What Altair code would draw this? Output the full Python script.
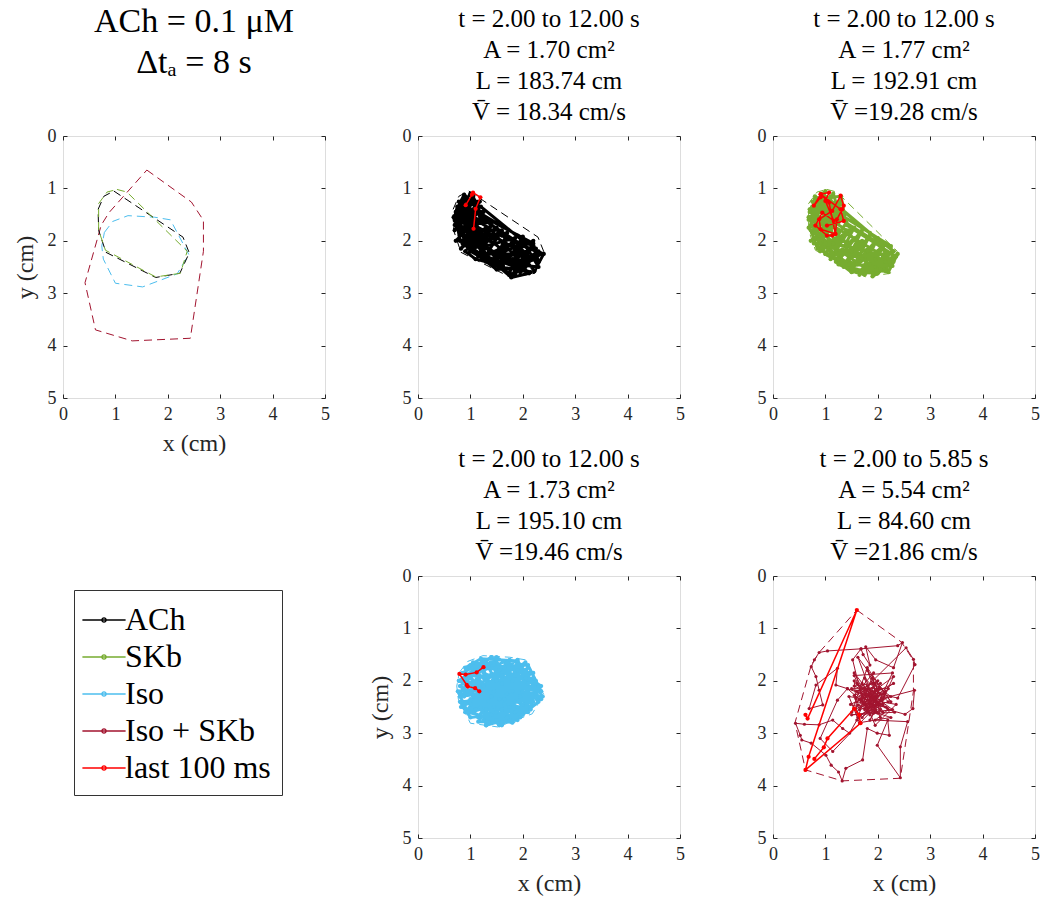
import altair as alt
import pandas as pd

FONT = "Liberation Serif"
CONDS = ["ACh", "SKb", "Iso", "Iso + SKb", "last 100 ms"]
COLORS = ["#000000", "#77ac30", "#4dbeee", "#a2142f", "#ff0000"]
TICKS = [0, 1, 2, 3, 4, 5]

# ---------------- convex hulls (cm) ----------------
hull_ach_x = [0.97, 2.29, 2.41, 2.23, 1.77, 0.82, 0.68, 0.67, 0.78, 0.97]
hull_ach_y = [1.05, 1.93, 2.23, 2.62, 2.70, 2.22, 1.80, 1.40, 1.15, 1.05]
hull_skb_x = [1.03, 1.22, 2.37, 2.24, 1.77, 0.81, 0.68, 0.68, 0.84, 1.03]
hull_skb_y = [1.02, 1.07, 2.20, 2.62, 2.69, 2.18, 1.80, 1.29, 1.07, 1.02]
hull_iso_x = [0.79, 0.95, 1.24, 1.75, 2.05, 2.40, 2.18, 1.52, 1.00, 0.77, 0.74, 0.79]
hull_iso_y = [1.84, 1.63, 1.52, 1.55, 1.60, 2.26, 2.63, 2.88, 2.81, 2.35, 2.10, 1.84]
hull_isk_x = [1.60, 2.45, 2.68, 2.68, 2.43, 1.32, 0.62, 0.42, 0.73, 0.88, 1.60]
hull_isk_y = [0.65, 1.26, 1.61, 2.20, 3.86, 3.91, 3.70, 2.80, 1.70, 1.46, 0.65]

# ---------------- trajectories (cm) ----------------
ach_x = [0.95, 0.72, 0.88, 1.02, 0.70, 0.85, 1.18, 0.80, 1.10, 0.75, 1.25, 0.90, 1.05, 0.68, 1.00,
         1.20, 0.82, 1.30, 0.95, 1.15, 1.40, 1.00, 1.60, 1.25, 1.50, 1.10, 1.70, 1.45, 1.85, 1.30,
         1.65, 1.55, 2.00, 1.75, 1.90, 1.35, 1.80, 2.10, 1.60, 2.20, 1.95, 2.30, 2.05, 2.22, 2.40,
         2.15, 1.85, 2.00, 1.70, 2.25, 1.95, 2.12, 1.78, 1.55, 1.70, 1.40, 1.20, 1.50, 1.05, 1.35,
         0.85, 1.15, 0.75, 1.08, 0.92, 0.70, 1.12, 0.80, 1.00, 0.95, 1.25, 1.45, 1.65, 1.90, 2.08,
         1.80, 1.55, 1.30, 1.10, 0.90, 1.20, 0.88, 1.05, 0.78, 0.92, 0.72, 1.10, 0.95, 1.30, 1.05,
         0.82, 1.00,
         0.72, 2.30, 2.20, 0.80, 0.90, 1.60, 2.35, 1.90, 0.75, 0.80, 1.60, 2.15, 1.30, 0.95, 1.20,
         2.00, 2.30, 1.45, 0.85, 1.05, 1.25, 2.10, 1.80, 1.00, 0.70, 1.15, 1.90, 2.25, 1.70, 0.90,
         0.75, 1.35, 2.05, 1.50, 0.85, 1.10, 0.91]
ach_y = [1.60, 1.45, 1.12, 1.30, 1.70, 1.22, 1.25, 1.90, 1.50, 1.35, 1.45, 2.05, 1.40, 1.55, 1.10,
         1.60, 2.15, 1.75, 1.95, 2.30, 1.70, 2.20, 1.80, 2.35, 1.95, 2.05, 1.85, 2.45, 1.95, 2.10,
         2.55, 2.15, 2.00, 2.60, 2.25, 2.25, 2.05, 2.45, 2.35, 2.00, 2.60, 2.20, 2.35, 2.58, 2.25,
         2.15, 2.65, 1.92, 2.40, 2.35, 2.45, 2.62, 2.70, 2.50, 2.10, 2.40, 2.20, 1.75, 2.00, 1.90,
         1.75, 1.80, 1.60, 1.65, 1.35, 1.80, 1.35, 1.55, 1.85, 2.10, 1.95, 2.05, 2.20, 2.10, 2.25,
         2.35, 2.30, 2.40, 2.35, 2.20, 1.90, 1.50, 1.20, 1.25, 1.80, 2.00, 1.95, 1.70, 1.65, 1.55,
         1.40, 1.45,
         1.50, 2.40, 2.05, 1.30, 1.15, 1.90, 2.25, 2.55, 1.70, 2.00, 2.50, 2.60, 2.30, 1.25, 1.35,
         2.00, 2.50, 2.40, 1.85, 1.15, 1.60, 2.15, 2.65, 2.20, 1.60, 1.45, 1.90, 2.15, 2.30, 2.00,
         1.40, 1.75, 2.50, 2.55, 2.05, 1.60, 1.32]
ach_red_x = [0.91, 1.03, 1.05, 1.19, 1.10, 1.06]
ach_red_y = [1.32, 1.12, 1.08, 1.17, 1.39, 1.77]

skb_x = [0.70, 1.00, 0.75, 1.30, 0.85, 1.20, 0.68, 1.10, 0.95, 1.35, 0.80, 1.25, 0.72, 1.15, 0.90,
         1.40, 1.00, 1.55, 1.20, 1.70, 1.35, 1.85, 1.50, 2.00, 1.65, 2.15, 1.80, 2.30, 1.95, 2.38,
         2.20, 2.10, 1.90, 2.25, 1.75, 2.05, 1.60, 1.90, 1.45, 1.70, 1.30, 1.55, 1.10, 1.45, 0.90,
         1.30, 0.78, 1.15, 0.85, 1.05, 0.70, 1.25, 0.95, 1.15, 0.80, 1.05, 0.68, 1.00, 1.40, 1.80,
         2.15, 2.00, 1.60, 1.25, 1.05, 1.35, 1.65, 1.95, 2.30, 2.12, 1.85, 1.50, 1.20, 0.95, 1.20,
         0.90, 0.75, 1.10, 0.88, 1.00, 0.72, 0.95, 1.28, 1.05,
         0.70, 2.30, 2.25, 0.80, 1.30, 1.40, 2.35, 1.90, 0.72, 0.85, 1.60, 2.15, 1.25, 0.95, 1.30,
         2.00, 2.28, 1.45, 0.80, 1.15, 1.30, 2.10, 1.75, 1.00, 0.68, 1.20, 1.85, 2.30, 1.70, 0.90,
         0.75, 1.40, 2.05, 1.50, 0.85, 1.10]
skb_y = [1.40, 1.05, 1.85, 1.20, 2.10, 1.50, 1.60, 1.15, 1.95, 1.50, 1.30, 1.85, 2.00, 1.70, 1.25,
         1.65, 2.25, 1.75, 2.40, 1.80, 2.50, 1.90, 2.55, 1.95, 2.65, 2.05, 2.60, 2.20, 2.50, 2.25,
         2.60, 2.30, 2.68, 2.45, 2.35, 2.15, 2.45, 2.10, 2.35, 2.00, 2.30, 1.95, 2.35, 1.80, 2.20,
         1.95, 2.05, 2.05, 1.70, 1.90, 1.55, 1.65, 1.45, 1.35, 1.15, 1.60, 1.75, 2.05, 2.10, 2.20,
         2.40, 2.62, 2.60, 2.45, 2.15, 2.00, 2.25, 2.35, 2.35, 2.55, 2.45, 2.20, 2.20, 1.80, 1.55,
         1.60, 1.25, 1.45, 1.90, 1.70, 1.70, 1.30, 1.30, 1.25,
         1.45, 2.40, 2.10, 1.20, 1.15, 1.70, 2.30, 2.62, 1.80, 2.15, 2.55, 2.58, 2.35, 1.10, 1.40,
         1.98, 2.48, 2.45, 1.95, 1.10, 1.60, 2.10, 2.65, 2.25, 1.55, 1.30, 1.85, 2.20, 2.35, 2.05,
         1.35, 1.80, 2.55, 2.60, 2.10, 1.55]
skb_red_x = [0.91, 0.78, 0.91, 1.07, 1.00, 1.16, 0.94, 0.81, 1.03, 1.13, 1.19, 1.22, 1.32, 1.35,
             1.29, 1.13, 0.88, 0.91, 1.19, 1.07, 0.91, 1.29, 1.35, 1.03]
skb_red_y = [1.17, 1.33, 1.11, 1.08, 1.24, 1.62, 1.46, 1.71, 1.90, 1.90, 1.87, 1.59, 1.40, 1.33,
             1.14, 1.43, 1.59, 1.78, 1.87, 1.27, 1.11, 1.40, 1.62, 1.71]

iso_x = [1.00, 1.60, 1.90, 0.80, 2.30, 1.20, 1.50, 2.10, 0.90, 1.70, 2.35, 1.10, 1.95, 1.40, 0.78,
         2.15, 1.30, 1.80, 1.00, 2.00, 1.25, 1.65, 0.95, 2.20, 1.45, 1.15, 1.85, 1.55, 2.05, 1.35,
         0.85, 1.75, 2.25, 1.05, 1.60, 1.90, 1.20, 1.50, 2.10, 0.90, 1.70, 1.30, 2.00, 1.45, 1.10,
         1.85, 1.55, 2.35, 1.00, 1.65, 1.40, 2.15, 1.20, 1.80, 0.95, 1.60, 2.05, 1.35, 1.75, 1.10,
         1.50, 2.20, 1.25, 1.95, 0.82, 1.40, 2.00, 1.15, 1.70, 1.85, 1.30, 2.30, 1.05, 1.55, 1.75,
         0.88, 1.45, 2.10, 1.60, 1.25, 1.90, 1.00, 1.65, 2.25, 1.35, 1.50,
         0.78, 2.35, 2.10, 0.90, 1.20, 1.90, 2.38, 0.80, 1.00, 2.15, 2.25, 0.76, 0.95, 1.80, 2.30,
         1.40, 0.85, 2.00, 1.30, 1.05, 2.20, 0.82, 1.60, 2.35, 1.50, 0.80, 1.90, 1.15, 2.05, 0.88,
         0.92]
iso_y = [1.70, 2.80, 1.60, 2.30, 2.10, 1.60, 2.60, 1.75, 2.60, 1.65, 2.35, 2.10, 2.70, 1.55, 2.00,
         2.50, 2.85, 2.00, 2.45, 2.20, 1.85, 2.45, 1.90, 1.95, 2.20, 2.70, 2.40, 1.80, 2.60, 2.40,
         2.15, 2.75, 2.25, 2.30, 2.05, 1.80, 2.50, 2.75, 2.05, 2.40, 2.25, 2.00, 2.45, 1.70, 1.80,
         2.60, 2.35, 2.20, 2.60, 1.75, 2.65, 1.85, 2.25, 2.20, 2.20, 2.55, 1.95, 1.75, 2.50, 2.55,
         2.00, 2.40, 2.75, 2.30, 2.25, 2.30, 1.70, 1.95, 2.70, 1.90, 2.55, 2.30, 2.05, 2.85, 1.60,
         1.95, 2.50, 2.60, 1.90, 2.10, 2.50, 2.35, 2.35, 2.05, 2.80, 1.60,
         2.00, 2.20, 1.70, 1.75, 1.58, 1.62, 2.30, 2.40, 2.70, 2.55, 2.00, 2.20, 2.60, 2.80, 2.40,
         1.55, 1.85, 2.65, 2.85, 1.65, 1.85, 2.50, 2.85, 2.10, 1.55, 2.10, 2.75, 2.78, 1.65, 2.30,
         1.78]
iso_red_x = [1.25, 1.12, 0.91, 0.79, 0.93, 0.95, 1.09, 1.17]
iso_red_y = [1.74, 1.84, 1.88, 1.87, 2.08, 2.11, 2.14, 2.20]

isk_x = [1.95, 1.80, 2.05, 1.70, 2.15, 1.85, 1.60, 2.00, 1.90, 1.75, 2.20, 1.65, 1.95, 1.80, 2.10,
         1.70, 2.00, 1.55, 1.90, 2.25, 1.85, 1.60, 2.05, 1.75, 1.52, 1.68, 1.72, 1.85, 1.77, 1.96,
         2.30, 2.47, 2.38, 1.68, 1.04, 0.88, 0.79, 0.73, 0.82, 0.88, 0.95, 0.69, 0.82, 1.23, 1.20,
         1.42, 1.70, 1.95, 1.80, 2.10, 1.90, 2.05, 1.75, 2.54, 2.68, 2.71, 2.38, 2.05, 1.85, 2.70,
         2.67, 2.52, 2.20, 1.95, 2.57, 2.43, 2.43, 1.99, 2.19, 2.22, 1.99, 1.80, 1.71, 1.39, 1.32,
         1.25, 1.11, 1.01, 0.73, 0.55, 0.52, 0.43, 0.60, 0.88, 1.14, 1.33, 1.46, 1.60, 1.85, 1.70,
         2.00, 1.14, 0.90, 1.23, 1.42, 1.65, 1.90, 2.10, 1.75, 1.95, 1.60, 1.55, 1.85, 2.15, 1.72,
         1.98, 1.82, 2.08, 1.66, 1.92, 2.02, 1.78, 1.88, 2.12, 1.62, 1.96, 1.84, 1.58, 2.18, 1.76,
         1.55, 1.90, 1.62, 2.25, 1.80, 1.50, 2.30, 1.48, 2.25, 1.65, 1.45, 2.35, 1.95, 1.55, 2.28,
         1.85, 2.20, 1.50, 2.32, 1.50, 2.28, 1.60, 2.00, 1.68, 2.30, 2.12, 1.62, 1.92, 1.55, 2.05]
isk_y = [2.40, 2.10, 2.55, 2.30, 2.20, 2.65, 2.20, 2.00, 2.50, 1.95, 2.40, 2.55, 2.20, 1.80, 2.35,
         2.70, 2.30, 2.10, 2.05, 2.30, 2.45, 2.40, 2.15, 2.55, 1.60, 1.39, 1.50, 1.70, 1.35, 1.60,
         1.75, 1.27, 1.33, 1.39, 1.43, 1.46, 1.60, 1.73, 1.92, 2.18, 2.46, 2.53, 2.08, 1.76, 2.08,
         2.15, 2.25, 2.35, 2.60, 2.45, 1.95, 2.70, 2.15, 1.37, 1.59, 1.69, 2.33, 2.25, 2.40, 2.18,
         2.53, 2.64, 2.55, 2.75, 2.78, 3.26, 3.85, 3.23, 2.75, 3.04, 3.00, 2.91, 3.51, 3.67, 3.91,
         3.74, 3.61, 3.42, 3.19, 3.13, 3.04, 2.81, 2.83, 2.84, 2.75, 2.91, 3.00, 2.75, 2.50, 2.05,
         2.45, 3.35, 3.10, 2.37, 2.15, 2.35, 2.20, 2.60, 2.45, 2.05, 2.60, 2.00, 2.30, 2.50, 2.42,
         2.28, 2.52, 2.38, 2.18, 2.62, 2.12, 2.48, 2.32, 2.24, 2.46, 2.58, 2.16, 2.34, 2.52, 2.26,
         1.85, 2.30, 1.55, 2.40, 1.75, 2.60, 2.05, 2.45, 2.70, 2.80, 2.30, 2.45, 2.85, 1.90, 1.85,
         2.75, 2.15, 2.15, 2.60, 2.65, 2.55, 2.05, 2.62, 2.38, 1.92, 2.30, 2.70, 1.85, 2.28, 2.05]
isk_red_x = [0.62, 0.66, 1.60, 0.68, 0.62, 1.67, 1.64, 1.55, 1.04, 0.97, 0.79]
isk_red_y = [2.65, 2.72, 0.65, 3.45, 3.70, 2.81, 2.65, 2.53, 3.10, 3.27, 3.49]


def frame(xs, ys, cond):
    return pd.DataFrame({"x": xs, "y": ys, "i": list(range(len(xs))), "cond": cond})


CSCALE = alt.Scale(domain=CONDS, range=COLORS)
LEGEND = alt.Legend(
    title=None, orient="none", legendX=11, legendY=14,
    symbolType="M-1.2,0L1.2,0M-0.12,0A0.12,0.12,0,1,1,0.12,0A0.12,0.12,0,1,1,-0.12,0Z",
    symbolSize=1296, symbolStrokeWidth=1.3, labelFont=FONT, labelFontSize=32,
    labelColor="black", labelOffset=2, rowPadding=2, padding=11,
    strokeColor="#333333", fillColor="white", labelLimit=400,
)


def axis_kw(orient, labels, title, tpad):
    ax = dict(orient=orient, values=TICKS, offset=-4, tickSize=4, domain=False, grid=False,
              labels=labels, labelFlush=False, labelFont=FONT, labelFontSize=18,
              labelColor="#262626", labelPadding=7, tickColor="#262626")
    if title:
        ax.update(title=title, titleFont=FONT, titleFontSize=24, titleFontWeight="normal",
                  titleColor="#262626", titlePadding=tpad)
    else:
        ax.update(title=None)
    return alt.Axis(**ax)


def xenc(title=None, labels=True, orient="bottom"):
    return alt.X("x:Q", scale=alt.Scale(domain=[0, 5], nice=False, zero=False),
                 axis=axis_kw(orient, labels, title, 8))


def yenc(title=None, labels=True, orient="left"):
    return alt.Y("y:Q", scale=alt.Scale(domain=[0, 5], nice=False, zero=False, reverse=True),
                 axis=axis_kw(orient, labels, title, 10))


def title(lines, size=25, lh=31, off=2):
    return alt.TitleParams(text=lines, font=FONT, fontSize=size, fontWeight="normal",
                           lineHeight=lh, offset=off, anchor="middle", color="black")


def traj_panel(xs, ys, cond, rx, ry, hx, hy, color, ttl, xt=None, yt=None, lw=3.0, ps=18):
    hull = alt.Chart(frame(hx, hy, cond)).mark_line(
        strokeDash=[8, 5], strokeWidth=1, color=color
    ).encode(x=xenc(xt), y=yenc(yt), order="i:Q")
    ticks2 = alt.Chart(frame(hx, hy, cond)).mark_line(opacity=0).encode(
        x=xenc(None, False, "top"), y=yenc(None, False, "right"), order="i:Q")
    path = alt.Chart(frame(xs, ys, cond)).mark_line(
        strokeWidth=lw, strokeJoin="round", strokeCap="round",
        point=alt.OverlayMarkDef(filled=True, size=ps)
    ).encode(
        x=alt.X("x:Q", axis=None), y=alt.Y("y:Q", axis=None), order="i:Q",
        color=alt.Color("cond:N", scale=CSCALE, legend=None),
    )
    red = alt.Chart(frame(rx, ry, "last 100 ms")).mark_line(
        strokeWidth=1.5, point=alt.OverlayMarkDef(filled=True, size=18)
    ).encode(
        x=alt.X("x:Q", axis=None), y=alt.Y("y:Q", axis=None), order="i:Q",
        color=alt.Color("cond:N", scale=CSCALE, legend=None),
    )
    return alt.layer(hull, ticks2, path, red).resolve_axis(x="independent", y="independent").properties(
        width=262, height=262, title=ttl)


# top-left: all hulls
hulls_df = pd.concat([
    frame(hull_isk_x, hull_isk_y, "Iso + SKb"),
    frame(hull_iso_x, hull_iso_y, "Iso"),
    frame(hull_ach_x, hull_ach_y, "ACh"),
    frame(hull_skb_x, hull_skb_y, "SKb"),
])
p1_lines = alt.Chart(hulls_df).mark_line(strokeDash=[8, 5], strokeWidth=1).encode(
    x=xenc("x (cm)"), y=yenc("y (cm)"), order="i:Q", detail="cond:N",
    color=alt.Color("cond:N", scale=CSCALE, legend=None),
)
p1_ticks = alt.Chart(hulls_df).mark_line(opacity=0).encode(
    x=xenc(None, False, "top"), y=yenc(None, False, "right"), order="i:Q", detail="cond:N")
p1 = alt.layer(p1_lines, p1_ticks).resolve_axis(x="independent", y="independent").properties(
    width=262, height=262,
    title=title(["ACh = 0.1 μM", "Δtₐ = 8 s"], size=34, lh=41, off=47))

p2 = traj_panel(ach_x, ach_y, "ACh", ach_red_x, ach_red_y, hull_ach_x, hull_ach_y, "#000000",
                title(["t = 2.00 to 12.00 s", "A = 1.70 cm²", "L = 183.74 cm", "V̄ = 18.34 cm/s"]))
p3 = traj_panel(skb_x, skb_y, "SKb", skb_red_x, skb_red_y, hull_skb_x, hull_skb_y, "#77ac30",
                title(["t = 2.00 to 12.00 s", "A = 1.77 cm²", "L = 192.91 cm", "V̄ =19.28 cm/s"]))
p5 = traj_panel(iso_x, iso_y, "Iso", iso_red_x, iso_red_y, hull_iso_x, hull_iso_y, "#4dbeee",
                title(["t = 2.00 to 12.00 s", "A = 1.73 cm²", "L = 195.10 cm", "V̄ =19.46 cm/s"]),
                xt="x (cm)", yt="y (cm)")
p6 = traj_panel(isk_x, isk_y, "Iso + SKb", isk_red_x, isk_red_y, hull_isk_x, hull_isk_y, "#a2142f",
                title(["t = 2.00 to 5.85 s", "A = 5.54 cm²", "L = 84.60 cm", "V̄ =21.86 cm/s"]),
                xt="x (cm)", lw=1, ps=10)

# legend cell: one point per condition, so the lines have no length and only the legend shows
leg_df = pd.DataFrame({"cond": CONDS, "i": list(range(len(CONDS)))})
legend_cell = alt.Chart(leg_df).mark_line().encode(
    x=alt.X("i:Q", axis=None), y=alt.Y("i:Q", axis=None), detail="cond:N",
    color=alt.Color("cond:N", scale=CSCALE, legend=LEGEND),
).properties(width=262, height=262, view=alt.ViewBackground(strokeOpacity=0))

chart = alt.concat(p1, p2, p3, legend_cell, p5, p6, columns=3,
                   spacing=alt.RowColnumber(row=178, column=93), bounds="flush").resolve_scale(
    color="independent"
).properties(
    padding={"left": 12, "top": 4, "right": 4, "bottom": 4}
).configure_view(stroke="#262626", strokeWidth=1).configure(font=FONT, background="white")

chart.save("out.html", embed_options={"renderer": "svg", "actions": False})
